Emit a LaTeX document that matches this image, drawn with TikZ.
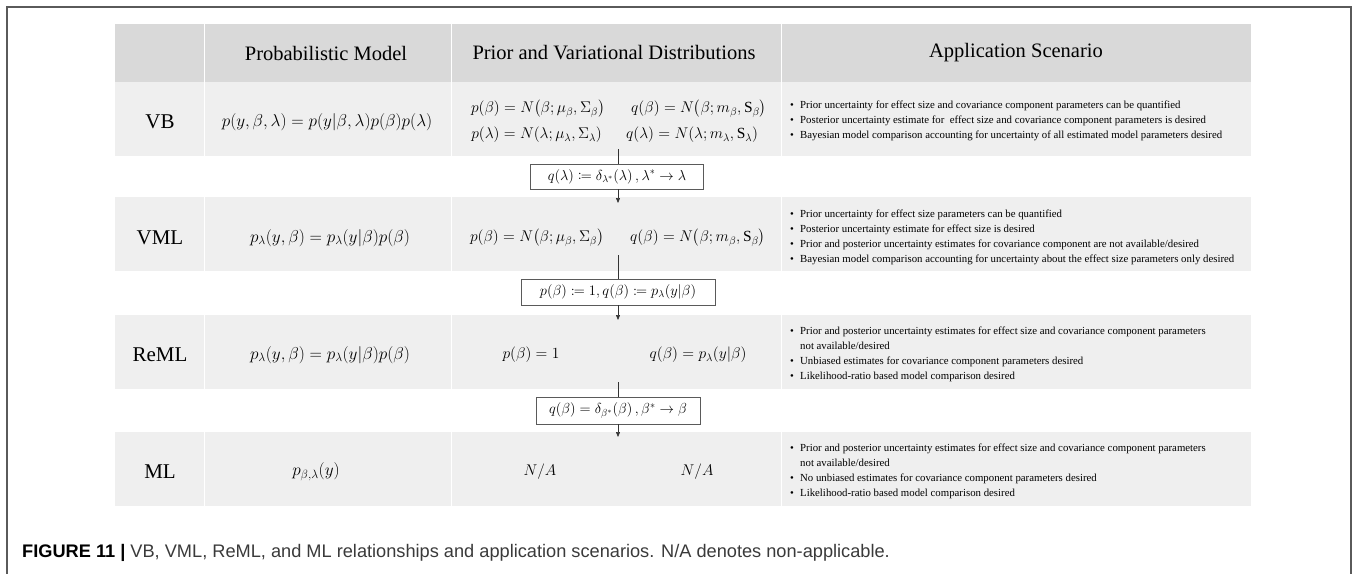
\RequirePackage{fix-cm}
\documentclass[tikz,border=0pt]{standalone}
\usepackage{amsmath,mathtools}
\usepackage{fontspec}
\setmainfont{Liberation Serif}
\newfontfamily\capfont{Liberation Sans}
\usetikzlibrary{arrows.meta}
\definecolor{hdrgray}{HTML}{D9D9D9}
\definecolor{rowgray}{HTML}{EFEFEF}
\definecolor{framegray}{HTML}{5A5A5A}
\definecolor{capgray}{HTML}{3A3A3A}
\newcommand\bi{\makebox[10pt][l]{\textbullet}}
\begin{document}
\begin{tikzpicture}[x=1pt,y=-1pt,
  hdrtext/.style={font=\fontsize{20.5}{24}\selectfont, anchor=center, inner sep=0pt},
  labeltext/.style={font=\fontsize{21}{24}\selectfont, anchor=center, inner sep=0pt},
  mathtext/.style={font=\fontsize{15.5}{19}\selectfont, anchor=center, inner sep=0pt},
  modeltext/.style={font=\fontsize{17.2}{20}\selectfont, anchor=center, inner sep=0pt},
  bullettext/.style={font=\fontsize{10.8}{15}\selectfont, anchor=west, align=left, inner sep=0pt},
  opbox/.style={draw=framegray, line width=0.8pt, fill=white, font=\fontsize{14.5}{17}\selectfont, inner sep=0pt, minimum height=25pt},
  conn/.style={draw=black!80, line width=0.6pt},
  arr/.style={conn, -{Triangle[length=5pt,width=4pt]}}
]
\useasboundingbox (0,0) rectangle (1357,573);
% outer frame
\draw[framegray, line width=1.2pt] (7,7) rectangle (1351,620);
% table bands
\fill[hdrgray] (115,24) rectangle (1251,82);
\fill[rowgray] (115,82) rectangle (1251,156);
\fill[rowgray] (115,197) rectangle (1251,271);
\fill[rowgray] (115,315) rectangle (1251,389);
\fill[rowgray] (115,432) rectangle (1251,506);
% column separators
\foreach \x in {204.5,451,781}{
  \draw[white, line width=1pt] (\x,24) -- (\x,156);
  \draw[white, line width=1pt] (\x,197) -- (\x,271);
  \draw[white, line width=1pt] (\x,315) -- (\x,389);
  \draw[white, line width=1pt] (\x,432) -- (\x,506);
}
% header
\node[hdrtext] (h1) at (326,53) {Probabilistic Model};
\node[hdrtext] (h2) at (614,53) {Prior and Variational Distributions};
\node[hdrtext] (h3) at (1016,53) {Application Scenario};
% labels
\node[labeltext] (lvb) at (160,122) {VB};
\node[labeltext] (lvml) at (160,238) {VML};
\node[labeltext] (lreml) at (160,355) {ReML};
\node[labeltext] (lml) at (160,472) {ML};
% models
\node[modeltext] (mvb) at (327,122) {$p(y,\beta,\lambda)=p(y|\beta,\lambda)p(\beta)p(\lambda)$};
\node[modeltext] (mvml) at (330,238) {$p_\lambda(y,\beta)=p_\lambda(y|\beta)p(\beta)$};
\node[modeltext] (mreml) at (330,355) {$p_\lambda(y,\beta)=p_\lambda(y|\beta)p(\beta)$};
\node[modeltext] (mml) at (316,472) {$p_{\beta,\lambda}(y)$};
% priors
\node[mathtext, anchor=east] (pvb1) at (605,109) {$p(\beta)=N\bigl(\beta;\mu_\beta,\Sigma_\beta\bigr)$};
\node[mathtext, anchor=west] (qvb1) at (631,109) {$q(\beta)=N\bigl(\beta;m_\beta,\mathrm{S}_\beta\bigr)$};
\node[mathtext, anchor=east] (pvb2) at (602,135) {$p(\lambda)=N(\lambda;\mu_\lambda,\Sigma_\lambda)$};
\node[mathtext, anchor=west] (qvb2) at (626,135) {$q(\lambda)=N(\lambda;m_\lambda,\mathrm{S}_\lambda)$};
\node[mathtext, anchor=east] (pvml) at (604,238) {$p(\beta)=N\bigl(\beta;\mu_\beta,\Sigma_\beta\bigr)$};
\node[mathtext, anchor=west] (qvml) at (630,238) {$q(\beta)=N\bigl(\beta;m_\beta,\mathrm{S}_\beta\bigr)$};
\node[mathtext] (preml) at (531,355) {$p(\beta)=1$};
\node[mathtext] (qreml) at (698,355) {$q(\beta)=p_\lambda(y|\beta)$};
\node[mathtext] (pml) at (540,472) {$N/A$};
\node[mathtext] (qml) at (697,472) {$N/A$};
% application scenarios
\node[bullettext] (avb) at (790,121) {\bi Prior uncertainty for effect size and covariance component parameters can be quantified\\
\bi Posterior uncertainty estimate for\ \ effect size and covariance component parameters is desired\\
\bi Bayesian model comparison accounting for uncertainty of all estimated model parameters desired};
\node[bullettext] (avml) at (790,237) {\bi Prior uncertainty for effect size parameters can be quantified\\
\bi Posterior uncertainty estimate for effect size is desired\\
\bi Prior and posterior uncertainty estimates for covariance component are not available/desired\\
\bi Bayesian model comparison accounting for uncertainty about the effect size parameters only desired};
\node[bullettext] (areml) at (790,354) {\bi Prior and posterior uncertainty estimates for effect size and covariance component parameters\\
\hspace*{10pt}not available/desired\\
\bi Unbiased estimates for covariance component parameters desired\\
\bi Likelihood-ratio based model comparison desired};
\node[bullettext] (aml) at (790,471) {\bi Prior and posterior uncertainty estimates for effect size and covariance component parameters\\
\hspace*{10pt}not available/desired\\
\bi No unbiased estimates for covariance component parameters desired\\
\bi Likelihood-ratio based model comparison desired};
% transition boxes and connectors
\coordinate (s1) at (618,149);
\coordinate (t1) at (618,203);
\coordinate (s2) at (618,255);
\coordinate (t2) at (618,320);
\coordinate (s3) at (618,382);
\coordinate (t3) at (618,437);
\node[opbox, minimum width=173pt, minimum height=25pt] (b1) at (617,176.5) {$q(\lambda)\coloneqq\delta_{\lambda^*}(\lambda)\,,\lambda^*\rightarrow\lambda$};
\node[opbox, minimum width=194pt, minimum height=26pt] (b2) at (618,292) {$p(\beta)\coloneqq1,q(\beta)\coloneqq p_\lambda(y|\beta)$};
\node[opbox, minimum width=164pt, minimum height=27pt] (b3) at (618,410.5) {$q(\beta)=\delta_{\beta^*}(\beta)\,,\beta^*\rightarrow\beta$};
\draw[conn] (s1) -- (s1 |- b1.north);
\draw[arr] (t1 |- b1.south) -- (t1);
\draw[conn] (s2) -- (s2 |- b2.north);
\draw[arr] (t2 |- b2.south) -- (t2);
\draw[conn] (s3) -- (s3 |- b3.north);
\draw[arr] (t3 |- b3.south) -- (t3);
% caption
\node[anchor=west, inner sep=0pt, font=\capfont\fontsize{18.2}{21}\selectfont, text=capgray] (cap) at (22,553) {{\bfseries\color{black}FIGURE 11 |} VB, VML, ReML, and ML relationships and application scenarios. N/A denotes non-applicable.};
\end{tikzpicture}
\end{document}
